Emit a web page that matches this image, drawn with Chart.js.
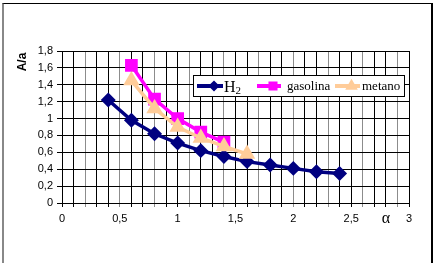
<!DOCTYPE html>
<html>
<head>
<meta charset="utf-8">
<script src="https://cdn.jsdelivr.net/npm/chart.js@4/dist/chart.umd.min.js"></script>
<style>
  body { margin: 0; background: #fff; }
  #wrap { position: relative; width: 448px; height: 274px; }
  #frame {
    position: absolute; left: 2px; top: 3px; width: 427px; height: 259px;
    border-top: 1px solid #000; border-left: 2px solid #888; border-right: 2px solid #000;
    pointer-events: none;
  }
  canvas { position: absolute; left: 0; top: 0; }
</style>
</head>
<body>
<div id="wrap">
  <canvas id="chart" width="448" height="274"></canvas>
  <div id="frame"></div>
</div>
<script>
// datos
const alphaH2 = [0.4, 0.6, 0.8, 1.0, 1.2, 1.4, 1.6, 1.8, 2.0, 2.2, 2.4];
const h2Values = [1.22, 0.98, 0.82, 0.71, 0.62, 0.55, 0.49, 0.45, 0.41, 0.37, 0.35];

const alphaGasolina = [0.6, 0.8, 1.0, 1.2, 1.4];
const gasolinaValues = [1.63, 1.23, 1.00, 0.84, 0.72];

const alphaMetano = [0.6, 0.8, 1.0, 1.2, 1.4, 1.6];
const metanoValues = [1.45, 1.12, 0.90, 0.77, 0.67, 0.58];

const seriesLabels = ['H2', 'gasolina', 'metano'];
const yTitle = 'A/a';
const xTitle = 'α';

function toPoints(xs, ys) {
    return xs.map((x, i) => ({ x: x, y: ys[i] }));
}

// numero con coma decimal
function fmt(v) {
    return String(Math.round(v * 10) / 10).replace('.', ',');
}

// Titulos de ejes y leyenda dibujados a mano (dentro del area)
const extrasPlugin = {
    id: 'extras',
    afterDraw(chart) {
        const ctx = chart.ctx;
        ctx.save();

        // titulo eje Y
        ctx.fillStyle = '#000';
        ctx.font = 'bold 12px "Liberation Sans", Arial, sans-serif';
        ctx.textAlign = 'center';
        ctx.textBaseline = 'middle';
        ctx.translate(23, 62);
        ctx.rotate(-Math.PI / 2);
        ctx.fillText(yTitle, 0, 0);
        ctx.setTransform(1, 0, 0, 1, 0, 0);

        // titulo eje X
        ctx.font = '16px "Liberation Serif", "Times New Roman", serif';
        ctx.fillText(xTitle, 386, 219);

        // leyenda
        const box = { x: 193.5, y: 75.5, w: 211, h: 21 };
        ctx.fillStyle = '#fff';
        ctx.fillRect(box.x, box.y, box.w, box.h);
        ctx.strokeStyle = '#000';
        ctx.lineWidth = 1;
        ctx.strokeRect(box.x, box.y, box.w, box.h);

        const items = [
            { x1: 197, x2: 223, tx: 224 },
            { x1: 257, x2: 281, tx: 287 },
            { x1: 335, x2: 360, tx: 362 }
        ];
        const cy = 86;
        chart.data.datasets.forEach((ds, i) => {
            const it = items[i];
            ctx.strokeStyle = ds.borderColor;
            ctx.lineWidth = 4;
            ctx.beginPath();
            ctx.moveTo(it.x1, cy);
            ctx.lineTo(it.x2, cy);
            ctx.stroke();
            ctx.fillStyle = ds.pointBackgroundColor;
            ctx.strokeStyle = ds.pointBorderColor;
            Chart.helpers.drawPoint(ctx, {
                pointStyle: ds.pointStyle,
                radius: ds.pointRadius * 0.55,
                rotation: 0,
                borderWidth: 1
            }, (it.x1 + it.x2) / 2 + 4, cy);

            ctx.fillStyle = '#000';
            ctx.textAlign = 'left';
            ctx.textBaseline = 'alphabetic';
            const m = ds.label.match(/^(\D+)(\d+)$/);
            if (m) {
                ctx.font = '16px "Liberation Serif", "Times New Roman", serif';
                ctx.fillText(m[1], it.tx, 92);
                const w = ctx.measureText(m[1]).width;
                ctx.font = '11px "Liberation Serif", "Times New Roman", serif';
                ctx.fillText(m[2], it.tx + w, 94);
            } else {
                ctx.font = '13px "Liberation Serif", "Times New Roman", serif';
                ctx.fillText(ds.label, it.tx, 90);
            }
        });
        ctx.restore();
    }
};

const ctx = document.getElementById('chart').getContext('2d');
const chart = new Chart(ctx, {
    type: 'line',
    data: {
        datasets: [
            {
                label: seriesLabels[0],
                data: toPoints(alphaH2, h2Values),
                borderColor: '#000080',
                backgroundColor: '#000080',
                pointBackgroundColor: '#000080',
                pointBorderColor: '#000080',
                pointStyle: 'rectRot',
                pointRadius: 5,
                borderWidth: 3.5,
                order: 2
            },
            {
                label: seriesLabels[1],
                data: toPoints(alphaGasolina, gasolinaValues),
                borderColor: '#ff00ff',
                backgroundColor: '#ff00ff',
                pointBackgroundColor: '#ff00ff',
                pointBorderColor: '#ff00ff',
                pointStyle: 'rect',
                pointRadius: 6.5,
                borderWidth: 3.5,
                order: 1
            },
            {
                label: seriesLabels[2],
                data: toPoints(alphaMetano, metanoValues),
                borderColor: '#ffcc99',
                backgroundColor: '#ffcc99',
                pointBackgroundColor: '#ffcc99',
                pointBorderColor: '#ffcc99',
                pointStyle: 'triangle',
                pointRadius: 6,
                borderWidth: 3.5,
                order: 0
            }
        ]
    },
    options: {
        responsive: false,
        animation: false,
        layout: { padding: { left: 0, top: 51, right: 39, bottom: 0 } },
        plugins: {
            legend: { display: false },
            tooltip: { enabled: false }
        },
        scales: {
            x: {
                type: 'linear',
                min: 0,
                max: 3,
                afterFit: s => { s.height = 71; },
                border: { color: '#000', width: 1 },
                grid: {
                    color: c => (c.index % 3 === 2 ? '#8c8c8c' : '#000'),
                    tickLength: 4,
                    lineWidth: 1
                },
                ticks: {
                    stepSize: 0.1,
                    autoSkip: false,
                    maxRotation: 0,
                    padding: 5,
                    color: '#000',
                    font: { family: '"Liberation Sans", Arial, sans-serif', size: 11 },
                    callback: v => {
                        const r = Math.round(v * 10) / 10;
                        return Math.abs(r * 2 - Math.round(r * 2)) < 1e-6 ? fmt(r) : '';
                    }
                }
            },
            y: {
                min: 0,
                max: 1.8,
                afterFit: s => { s.width = 62; },
                border: { color: '#000', width: 1 },
                grid: { color: '#000', tickLength: 5, lineWidth: 1 },
                ticks: {
                    stepSize: 0.2,
                    padding: 4,
                    color: '#000',
                    font: { family: '"Liberation Sans", Arial, sans-serif', size: 11 },
                    callback: v => fmt(v)
                }
            }
        }
    },
    plugins: [extrasPlugin]
});
</script>
</body>
</html>
